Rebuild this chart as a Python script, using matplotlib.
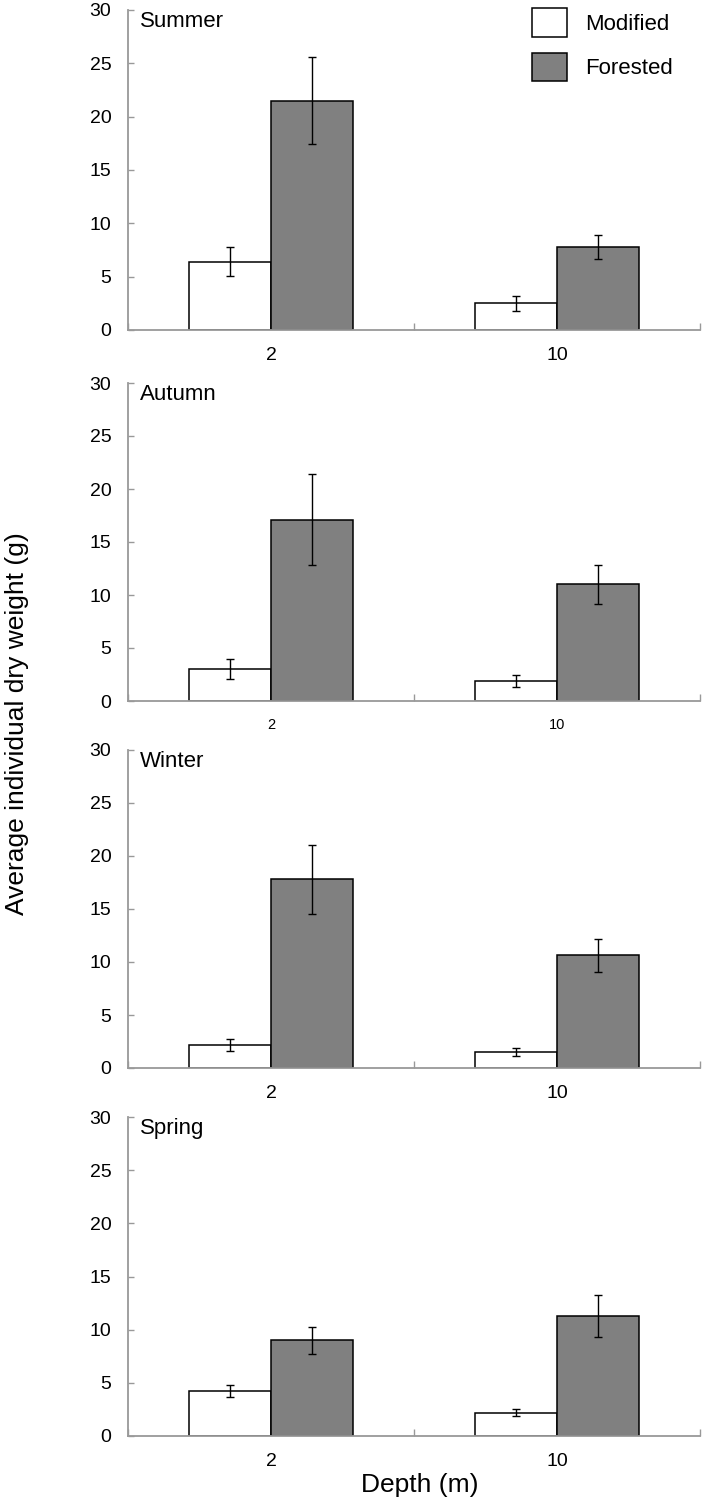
import numpy as np
import matplotlib
matplotlib.use("Agg")
import matplotlib.pyplot as plt

plt.rcParams['font.family'] = ['Liberation Sans', 'DejaVu Sans']

seasons = ['Summer', 'Autumn', 'Winter', 'Spring']
depths = ['2', '10']

# mean dry weight (g) for depth 2 m, 10 m
modified = [[6.4, 2.5], [3.0, 1.9], [2.2, 1.5], [4.25, 2.2]]
forested = [[21.5, 7.8], [17.1, 11.0], [17.8, 10.65], [9.0, 11.3]]
# error bars
modified_err = [[1.35, 0.7], [0.95, 0.6], [0.55, 0.4], [0.58, 0.33]]
forested_err = [[4.1, 1.1], [4.3, 1.85], [3.25, 1.55], [1.25, 1.95]]

fig = plt.figure(figsize=(7.04, 15.02), dpi=100)

W, H = 704, 1502
ax_left, ax_right = 128, 700
tops = [10, 383, 750, 1117]
bottoms = [330, 701, 1068, 1436]

x = np.arange(len(depths))
bw = 0.286
spine_col = '#999999'

for i, season in enumerate(seasons):
    ax = fig.add_axes([ax_left / W, 1 - bottoms[i] / H,
                       (ax_right - ax_left) / W, (bottoms[i] - tops[i]) / H])
    ax.bar(x - bw / 2, modified[i], bw, color='white', edgecolor='black',
           linewidth=1.1, label='Modified', zorder=2)
    ax.bar(x + bw / 2, forested[i], bw, color='#808080', edgecolor='black',
           linewidth=1.1, label='Forested', zorder=2)
    ax.errorbar(x - bw / 2, modified[i], yerr=modified_err[i], fmt='none',
                ecolor='black', elinewidth=1.0, capsize=3, capthick=1.0, zorder=3)
    ax.errorbar(x + bw / 2, forested[i], yerr=forested_err[i], fmt='none',
                ecolor='black', elinewidth=1.0, capsize=3, capthick=1.0, zorder=3)

    ax.set_xlim(-0.5, 1.5)
    ax.set_ylim(0, 30)
    ax.set_yticks(np.arange(0, 31, 5))
    ax.set_xticks([-0.5, 0.5, 1.5])
    ax.set_xticklabels([])
    ax.set_xticks(x, minor=True)
    xt_size = 10.5 if season == 'Autumn' else 14
    ax.set_xticklabels(depths, minor=True, fontsize=xt_size)

    for s in ['top', 'right']:
        ax.spines[s].set_visible(False)
    for s in ['left', 'bottom']:
        ax.spines[s].set_color(spine_col)
        ax.spines[s].set_linewidth(1.3)
    ax.tick_params(axis='y', direction='in', length=4, width=1.0,
                   color=spine_col, labelsize=14, pad=12)
    ax.tick_params(axis='x', which='major', direction='in', length=5,
                   width=1.0, color=spine_col)
    ax.tick_params(axis='x', which='minor', length=0, pad=12.5)

    ax.text(0.021, 0.998, season, transform=ax.transAxes, fontsize=16,
            va='top', ha='left')

    if i == 0:
        ax.legend(loc='upper left', bbox_to_anchor=(0.706, 1.006), frameon=False,
                  fontsize=16, handlelength=1.6, handleheight=1.6,
                  labelspacing=0.73, handletextpad=0.82, borderpad=0,
                  borderaxespad=0)

fig.text(0.024, 1 - 724 / H, 'Average individual dry weight (g)', rotation=90,
         fontsize=19, va='center', ha='center')
fig.text(420 / W, 1 - 1485 / H, 'Depth (m)', fontsize=19,
         va='center', ha='center')

fig.savefig('out.png', dpi=100)
